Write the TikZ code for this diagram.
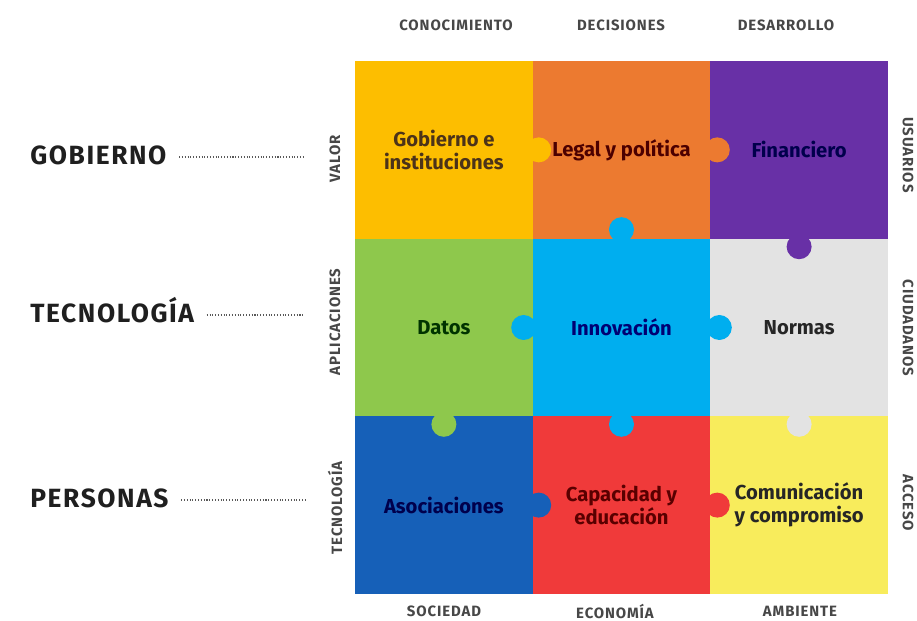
\documentclass[tikz,border=0pt]{standalone}
\usepackage{fontspec}
\setmainfont{Fira Sans}
\newfontfamily\axisfont[LetterSpace=6]{Fira Sans}
\newfontfamily\pillarfont[LetterSpace=6]{Fira Sans}

\definecolor{amber}{RGB}{253,190,0}
\definecolor{tangerine}{RGB}{236,122,48}
\definecolor{grape}{RGB}{104,48,166}
\definecolor{lime}{RGB}{142,200,76}
\definecolor{sky}{RGB}{0,174,239}
\definecolor{silver}{RGB}{227,227,227}
\definecolor{navy}{RGB}{22,96,184}
\definecolor{scarlet}{RGB}{240,58,58}
\definecolor{lemon}{RGB}{248,236,92}

\begin{document}
\begin{tikzpicture}
  [x=0.02cm,y=-0.02cm,
   every matrix/.style={ampersand replacement=\&,column sep=0cm,row sep=0cm},
   cell/.style={minimum size=3.553cm,inner sep=0pt,outer sep=0pt,align=center,
     font=\bfseries\fontsize{11.5}{13}\selectfont},
   axis/.style={font=\axisfont\bfseries\fontsize{8.5}{9}\selectfont,text=black!72},
   pillar/.style={font=\pillarfont\bfseries\fontsize{15}{16}\selectfont,text=black!88,
     anchor=west,inner sep=0pt,text height=1.6ex,text depth=0pt},
   leader/.style={densely dotted,semithick,black!65,shorten <=7pt},
   tab/.style={radius=0.25cm}]

  \useasboundingbox (0,0) rectangle (917,621);

  \matrix (grid) at (621.5,327.5) {
   \node[cell,fill=amber,text=brown!40!black] (gob) {Gobierno e\\instituciones}; \&
   \node[cell,fill=tangerine,text=red!30!black] (leg) {Legal y política}; \&
   \node[cell,fill=grape,text=blue!30!black] (fin) {Financiero}; \\
   \node[cell,fill=lime,text=green!20!black] (dat) {Datos}; \&
   \node[cell,fill=sky,text=blue!45!black] (inn) {Innovación}; \&
   \node[cell,fill=silver,text=black!85] (nor) {Normas}; \\
   \node[cell,fill=navy,text=blue!30!black] (aso) {Asociaciones}; \&
   \node[cell,fill=scarlet,text=red!35!black] (cap) {Capacidad y\\educación}; \&
   \node[cell,fill=lemon,text=black!85] (com) {Comunicación\\y compromiso}; \\
  };

  % puzzle tabs
  \fill[amber] ([xshift=0.12cm]gob.east) circle[tab];
  \fill[tangerine] ([xshift=0.14cm]leg.east) circle[tab];
  \fill[sky] ([yshift=0.18cm]inn.north) circle[tab];
  \fill[grape] ([yshift=-0.16cm]fin.south) circle[tab];
  \fill[sky] ([xshift=-0.18cm]inn.west) circle[tab];
  \fill[sky] ([xshift=0.18cm]inn.east) circle[tab];
  \fill[lime] ([yshift=-0.16cm]dat.south) circle[tab];
  \fill[sky] ([yshift=-0.16cm]inn.south) circle[tab];
  \fill[silver] ([yshift=-0.16cm]nor.south) circle[tab];
  \fill[navy] ([xshift=0.12cm]aso.east) circle[tab];
  \fill[scarlet] ([xshift=0.14cm]cap.east) circle[tab];

  % axis labels
  \node[axis] (conoc) at (456,25) {CONOCIMIENTO};
  \node[axis] (decis) at (621,25) {DECISIONES};
  \node[axis] (desar) at (786,25) {DESARROLLO};
  \node[axis] (socie) at (444,611) {SOCIEDAD};
  \node[axis] (econo) at (615,611) {ECONOMÍA};
  \node[axis] (ambie) at (800,611) {AMBIENTE};
  \node[axis,rotate=90] (valor) at (335,159) {VALOR};
  \node[axis,rotate=90] (aplic) at (335,322) {APLICACIONES};
  \node[axis,rotate=90] (tecno) at (335,508) {TECNOLOGÍA};
  \node[axis,rotate=-90,inner sep=1pt] (usuar) at (908,155) {USUARIOS};
  \node[axis,rotate=-90,inner sep=1pt] (ciuda) at (908,328) {CIUDADANOS};
  \node[axis,rotate=-90,inner sep=1pt] (acces) at (908,503) {ACCESO};

  % pillars
  \node[pillar] (gobierno) at (30,157) {GOBIERNO};
  \node[pillar] (tecnologia) at (30,315) {TECNOLOGÍA};
  \node[pillar] (personas) at (30,500) {PERSONAS};
  \coordinate (gobierno-end) at (305,157);
  \coordinate (tecnologia-end) at (305,315);
  \coordinate (personas-end) at (305,500);
  \draw[leader] (gobierno) -- (gobierno-end);
  \draw[leader] (tecnologia) -- (tecnologia-end);
  \draw[leader] (personas) -- (personas-end);

\end{tikzpicture}
\end{document}
